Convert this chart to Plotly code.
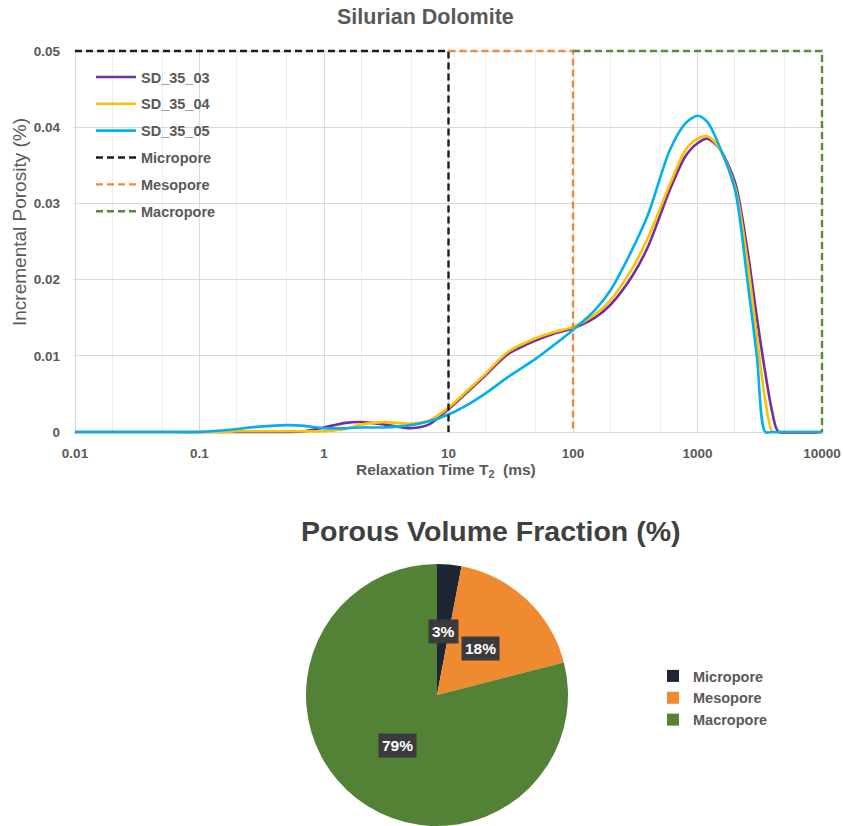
import math
import plotly.graph_objects as go

# ---------------- data ----------------
T2_ms = [0.01, 0.05, 0.1, 0.15, 0.2, 0.3, 0.5, 0.7, 1, 1.5, 2, 3, 5, 7, 10, 15, 20, 30, 50, 70,
         100, 150, 200, 300, 400, 600, 800, 1000, 1200, 1500, 2000, 2500, 3000, 3500, 4000, 4500, 10000]

SD_35_03 = [0, 0, 0, 0, 0, 0, 0, 0.0001, 0.0006, 0.0012, 0.0013, 0.0010, 0.0005, 0.0010, 0.0030,
            0.0056, 0.0075, 0.0102, 0.0120, 0.0129, 0.0136, 0.0150, 0.0167, 0.0205, 0.0243, 0.0318,
            0.0362, 0.0379, 0.0385, 0.0372, 0.0328, 0.0242, 0.0150, 0.0078, 0.0025, 0, 0]
SD_35_04 = [0, 0, 0, 0, 0.0001, 0.0001, 0.0001, 0.0001, 0.0001, 0.0004, 0.0010, 0.0013, 0.0011,
            0.0015, 0.0032, 0.0058, 0.0077, 0.0105, 0.0123, 0.0131, 0.0138, 0.0154, 0.0173, 0.0215,
            0.0255, 0.0325, 0.0370, 0.0385, 0.0388, 0.0372, 0.0322, 0.0228, 0.0125, 0.0042, 0, 0, 0]
SD_35_05 = [0, 0, 0, 0.0002, 0.0004, 0.0007, 0.0009, 0.0008, 0.0005, 0.0005, 0.0006, 0.0006, 0.0009,
            0.0014, 0.0023, 0.0038, 0.0051, 0.0072, 0.0096, 0.0114, 0.0134, 0.0160, 0.0186, 0.0240,
            0.0285, 0.0370, 0.0405, 0.0415, 0.0407, 0.0375, 0.0318, 0.0203, 0.0099, 0, 0, 0, 0]

# pore class boundaries (ms) and y-top of the class boxes
micropore_x = [0.01, 10, 10]
mesopore_x = [10, 100, 100]
macropore_x = [100, 10000, 10000]
box_y = [0.05, 0.05, 0]

x_tickvals = [0.01, 0.1, 1, 10, 100, 1000, 10000]
x_ticktext = ["0.01", "0.1", "1", "10", "100", "1000", "10000"]
y_tickvals = [0, 0.01, 0.02, 0.03, 0.04, 0.05]
y_ticktext = ["0", "0.01", "0.02", "0.03", "0.04", "0.05"]

pie_labels = ["Micropore", "Mesopore", "Macropore"]
pie_values = [3, 18, 79]

# ---------------- style ----------------
W, H = 843, 826
FONT = "Liberation Sans, Arial, sans-serif"
GRAY = "#595959"
series_colors = {"SD_35_03": "#7030A0", "SD_35_04": "#FFC000", "SD_35_05": "#00B0F0"}
class_colors = {"Micropore": "#1c1c1c", "Mesopore": "#F08A3A", "Macropore": "#5B8A3A"}
pie_colors = ["#1F2633", "#F08A30", "#538135"]

def px_x(p):
    return p / W

def px_y(p):
    return 1 - p / H

fig = go.Figure()

for name, ys in [("SD_35_03", SD_35_03), ("SD_35_04", SD_35_04), ("SD_35_05", SD_35_05)]:
    fig.add_trace(go.Scatter(
        x=T2_ms, y=ys, name=name, mode="lines",
        line=dict(color=series_colors[name], width=2.6, shape="spline", smoothing=0.8),
        legendgroup=name, legend="legend", cliponaxis=False,
    ))

for name, xs in [("Micropore", micropore_x), ("Mesopore", mesopore_x), ("Macropore", macropore_x)]:
    fig.add_trace(go.Scatter(
        x=xs, y=box_y, name=name, mode="lines",
        line=dict(color=class_colors[name], width=2.4, dash="7px,4px"),
        legendgroup=name, legend="legend", cliponaxis=False,
    ))

# pie
pie_x0, pie_x1 = 306, 568
pie_y0, pie_y1 = 564, 826
fig.add_trace(go.Pie(
    labels=pie_labels, values=pie_values, sort=False, direction="clockwise", rotation=0,
    marker=dict(colors=pie_colors, line=dict(width=0)),
    textinfo="none", hoverinfo="label+percent",
    domain=dict(x=[px_x(pie_x0), px_x(pie_x1)], y=[px_y(pie_y1), px_y(pie_y0)]),
    legend="legend2",
))

# pie labels at half radius along mid-angle of each slice (derived from data)
cx = (pie_x0 + pie_x1) / 2
cy = (pie_y0 + pie_y1) / 2
R = (pie_x1 - pie_x0) / 2
total = sum(pie_values)
cum = 0
for v in pie_values:
    mid = (cum + v / 2) / total * 2 * math.pi
    cum += v
    lx = cx + 0.49 * R * math.sin(mid)
    ly = cy - 0.49 * R * math.cos(mid)
    fig.add_annotation(
        x=px_x(lx), y=px_y(ly), xref="paper", yref="paper", xanchor="center", yanchor="middle",
        text=f"<b>{round(v / total * 100)}%</b>", showarrow=False,
        font=dict(family=FONT, size=15.5, color="white"),
        bgcolor="#3b3b3b", borderpad=3,
    )

# titles
def label(xp, yp, text, size, color=GRAY, angle=0):
    fig.add_annotation(x=px_x(xp), y=px_y(yp), xref="paper", yref="paper", text=text,
                       xanchor="center", yanchor="middle", textangle=angle, showarrow=False,
                       font=dict(family=FONT, size=size, color=color))

label(425, 17, "<b>Silurian Dolomite</b>", 21.5)
label(491, 531, "<b>Porous Volume Fraction (%)</b>", 28.5, "#404040")
label(446, 470, "<b>Relaxation Time T<sub>2</sub>  (ms)</b>", 15.5)
label(20, 222, "Incremental Porosity (%)", 19, angle=-90)

# ranges padded slightly so the boundary boxes at the edges are fully visible
dec_px = (822 - 75) / 6          # pixels per decade
unit_px = (432 - 51) / 0.05      # pixels per porosity unit
pad_dec = 2 / dec_px
pad_y = 2 / unit_px

fig.update_layout(
    width=W, height=H,
    margin=dict(l=0, r=0, t=0, b=0),
    paper_bgcolor="white", plot_bgcolor="white",
    font=dict(family=FONT, color=GRAY),
    xaxis=dict(
        type="log", range=[-2 - pad_dec, 4 + pad_dec], domain=[px_x(73), px_x(824)],
        tickvals=x_tickvals, ticktext=x_ticktext, ticks="", ticklabelstandoff=9,
        tickfont=dict(family=FONT, size=13.5, color=GRAY, weight="bold"),
        showgrid=True, gridcolor="#d9d9d9", gridwidth=1,
        minor=dict(showgrid=True, gridcolor="#eeeeee", gridwidth=1, ticks=""),
        showline=False, zeroline=False, automargin=False, anchor="y",
    ),
    yaxis=dict(
        range=[-pad_y, 0.05 + pad_y], domain=[px_y(434), px_y(49)],
        tickvals=y_tickvals, ticktext=y_ticktext, ticks="", ticklabelstandoff=12,
        tickfont=dict(family=FONT, size=13.5, color=GRAY, weight="bold"),
        showgrid=True, gridcolor="#d9d9d9", gridwidth=1,
        showline=False, zeroline=False, automargin=False, anchor="x",
    ),
    legend=dict(
        x=px_x(91), y=px_y(61), xanchor="left", yanchor="top",
        bgcolor="rgba(255,255,255,0)", tracegroupgap=5,
        font=dict(family=FONT, size=14.5, color=GRAY, weight="bold"),
        itemwidth=40,
    ),
    legend2=dict(
        x=px_x(653), y=px_y(660), xanchor="left", yanchor="top",
        bgcolor="rgba(255,255,255,0)",
        font=dict(family=FONT, size=14.5, color=GRAY, weight="bold"),
    ),
    showlegend=True,
)

fig.write_html("out.html", config={"displayModeBar": False},
               post_script="document.body.style.margin='0';")
